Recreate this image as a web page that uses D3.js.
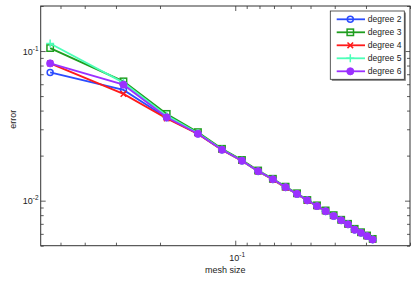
<!DOCTYPE html>
<html>
<head>
<meta charset="utf-8">
<script src="https://cdn.jsdelivr.net/npm/d3@7"></script>
<style>
  body { margin: 0; background: #fff; }
  svg { font-family: "Liberation Sans", Arial, sans-serif; }
</style>
</head>
<body>
<div id="wrapper"></div>
<script>

// mesh sizes (x) and errors for each polynomial degree
const meshSize = [0.55, 0.28, 0.188, 0.141, 0.113, 0.094, 0.081, 0.0707, 0.0629, 0.0566,
  0.0515, 0.0471, 0.0435, 0.0404, 0.0377, 0.0354, 0.0333, 0.0314, 0.0297, 0.0282]

const degree2 = [0.072, 0.055, 0.0358, 0.0280, 0.0219, 0.0185, 0.01575, 0.0139, 0.0123, 0.0111,
  0.01005, 0.0092, 0.0085, 0.0079, 0.0074, 0.00695, 0.0064, 0.0061, 0.0058, 0.0055]
const degree3 = [0.1047, 0.0627, 0.038, 0.0287, 0.0222, 0.0187, 0.0159, 0.0140, 0.0124, 0.0112,
  0.0101, 0.0093, 0.0086, 0.0080, 0.00745, 0.0070, 0.00648, 0.00615, 0.00585, 0.00555]
const degree4 = [0.0827, 0.0517, 0.0354, 0.0279, 0.0218, 0.0184, 0.0157, 0.0138, 0.0122, 0.0111,
  0.0100, 0.0092, 0.0085, 0.0079, 0.0074, 0.00693, 0.0064, 0.0061, 0.0058, 0.0055]
const degree5 = [0.1124, 0.0615, 0.037, 0.0282, 0.0220, 0.0185, 0.01575, 0.0139, 0.0123, 0.0111,
  0.01005, 0.0092, 0.0085, 0.0079, 0.0074, 0.00695, 0.0064, 0.0061, 0.0058, 0.0055]
const degree6 = [0.0827, 0.0596, 0.0361, 0.0280, 0.0219, 0.0185, 0.01575, 0.0139, 0.0123, 0.0111,
  0.01005, 0.0092, 0.0085, 0.0079, 0.0074, 0.00695, 0.0064, 0.0061, 0.0058, 0.0055]

const seriesNames = ["degree 2", "degree 3", "degree 4", "degree 5", "degree 6"]

const xMajor = [0.1]
const xMinor = [0.02, 0.03, 0.04, 0.05, 0.06, 0.07, 0.08, 0.09, 0.2, 0.3, 0.4, 0.5]
const yMajor = [0.01, 0.1]
const yMinor = [0.005, 0.006, 0.007, 0.008, 0.009, 0.02, 0.03, 0.04, 0.05, 0.06, 0.07, 0.08, 0.09, 0.2]

function drawChart() {

  const dimensions = {
    width: 415,
    height: 282,
    margin: { top: 6, right: 5, bottom: 36.3, left: 40.7 },
  }
  dimensions.boundedWidth = dimensions.width - dimensions.margin.left - dimensions.margin.right
  dimensions.boundedHeight = dimensions.height - dimensions.margin.top - dimensions.margin.bottom

  const svg = d3.select("#wrapper")
    .append("svg")
      .attr("width", dimensions.width)
      .attr("height", dimensions.height)

  const bounds = svg.append("g")
      .attr("transform", `translate(${dimensions.margin.left},${dimensions.margin.top})`)

  // scales (x axis is reversed: large mesh size on the left)
  const xScale = d3.scaleLog()
    .domain([0.6, 0.02])
    .range([0, dimensions.boundedWidth])
  const yScale = d3.scaleLog()
    .domain([0.005, 0.2])
    .range([dimensions.boundedHeight, 0])

  const axisColor = "#333"

  // box
  bounds.append("rect")
    .attr("width", dimensions.boundedWidth)
    .attr("height", dimensions.boundedHeight)
    .attr("fill", "#fff")
    .attr("stroke", axisColor)
    .attr("stroke-width", 1)

  // ticks, pointing inward, on all four sides
  function ticks(axisFn, vals, size, transform) {
    const g = bounds.append("g")
      .attr("transform", transform)
      .call(axisFn.tickValues(vals).tickSize(size).tickFormat(""))
    g.select(".domain").remove()
    g.selectAll("line").attr("stroke", axisColor).attr("stroke-width", 0.8)
  }
  const W = dimensions.boundedWidth, H = dimensions.boundedHeight
  ticks(d3.axisBottom(xScale), xMajor, -5, `translate(0,${H})`)
  ticks(d3.axisBottom(xScale), xMinor, -3, `translate(0,${H})`)
  ticks(d3.axisTop(xScale), xMajor, -5, "translate(0,0)")
  ticks(d3.axisTop(xScale), xMinor, -3, "translate(0,0)")
  ticks(d3.axisLeft(yScale), yMajor, -5, "translate(0,0)")
  ticks(d3.axisLeft(yScale), yMinor, -3, "translate(0,0)")
  ticks(d3.axisRight(yScale), yMajor, -5, `translate(${W},0)`)
  ticks(d3.axisRight(yScale), yMinor, -3, `translate(${W},0)`)

  // tick labels 10^n
  function powLabel(x, y, exp, anchor) {
    const t = bounds.append("text")
      .attr("x", x).attr("y", y)
      .attr("text-anchor", anchor)
      .attr("fill", "#222")
      .style("font-size", "9px")
    t.append("tspan").text("10")
    t.append("tspan").text(exp).attr("dy", -4).style("font-size", "6.5px")
  }
  xMajor.forEach(v => powLabel(xScale(v) - 6, H + 15, "-" + Math.round(-Math.log10(v)), "start"))
  yMajor.forEach(v => powLabel(-18, yScale(v) + 3.5, "-" + Math.round(-Math.log10(v)), "start"))

  // axis titles
  bounds.append("text")
    .attr("x", W / 2)
    .attr("y", H + 27)
    .attr("text-anchor", "middle")
    .attr("fill", "#222")
    .style("font-size", "9px")
    .text("mesh size")
  bounds.append("text")
    .attr("transform", `translate(${-25},${yScale(0.035)}) rotate(-90)`)
    .attr("text-anchor", "middle")
    .attr("fill", "#222")
    .style("font-size", "9px")
    .text("error")

  // series
  const colors = ["#2b4cff", "#1f9e1f", "#ff1a1a", "#4dffb8", "#9b30ff"]
  const allSeries = [degree2, degree3, degree4, degree5, degree6]

  const lineGen = d3.line()
    .x(d => xScale(d[0]))
    .y(d => yScale(d[1]))

  function marker(g, i, color) {
    if (i == 0) {
      g.append("circle").attr("r", 3).attr("fill", "none").attr("stroke", color).attr("stroke-width", 1.5)
    } else if (i == 1) {
      g.append("rect").attr("x", -3.2).attr("y", -3.2).attr("width", 6.4).attr("height", 6.4)
        .attr("fill", "none").attr("stroke", color).attr("stroke-width", 1.5)
    } else if (i == 2) {
      g.append("path").attr("d", "M-2.8,-2.8L2.8,2.8M-2.8,2.8L2.8,-2.8")
        .attr("stroke", color).attr("stroke-width", 1.5)
    } else if (i == 3) {
      g.append("path").attr("d", "M-4,0L4,0M0,-4L0,4")
        .attr("stroke", color).attr("stroke-width", 1.5)
    } else {
      g.append("circle").attr("r", 3.6).attr("fill", color).attr("stroke", color).attr("stroke-width", 0.8)
    }
  }

  allSeries.forEach((vals, i) => {
    const pts = meshSize.map((h, j) => [h, vals[j]])
    bounds.append("path")
      .datum(pts)
      .attr("d", lineGen)
      .attr("fill", "none")
      .attr("stroke", colors[i])
      .attr("stroke-width", 1.8)
    pts.forEach(p => {
      const g = bounds.append("g")
        .attr("transform", `translate(${xScale(p[0])},${yScale(p[1])})`)
      marker(g, i, colors[i])
    })
  })

  // legend
  const legend = svg.append("g").attr("transform", "translate(330.3,11)")
  const lw = 74, lh = 68.3
  legend.append("rect").attr("x", 1.5).attr("y", 1.5).attr("width", lw).attr("height", lh).attr("fill", "#777")
  legend.append("rect").attr("width", lw).attr("height", lh)
    .attr("fill", "#fff").attr("stroke", axisColor).attr("stroke-width", 0.8)
  seriesNames.forEach((name, i) => {
    const y = 8.3 + i * 13
    legend.append("line").attr("x1", 6.4).attr("x2", 34.7).attr("y1", y).attr("y2", y)
      .attr("stroke", colors[i]).attr("stroke-width", 1.8)
    marker(legend.append("g").attr("transform", `translate(20,${y})`), i, colors[i])
    legend.append("text").attr("x", 37.5).attr("y", y + 3)
      .attr("fill", "#222")
      .style("font-size", "8.5px")
      .text(name)
  })
}

drawChart()
</script>
</body>
</html>
